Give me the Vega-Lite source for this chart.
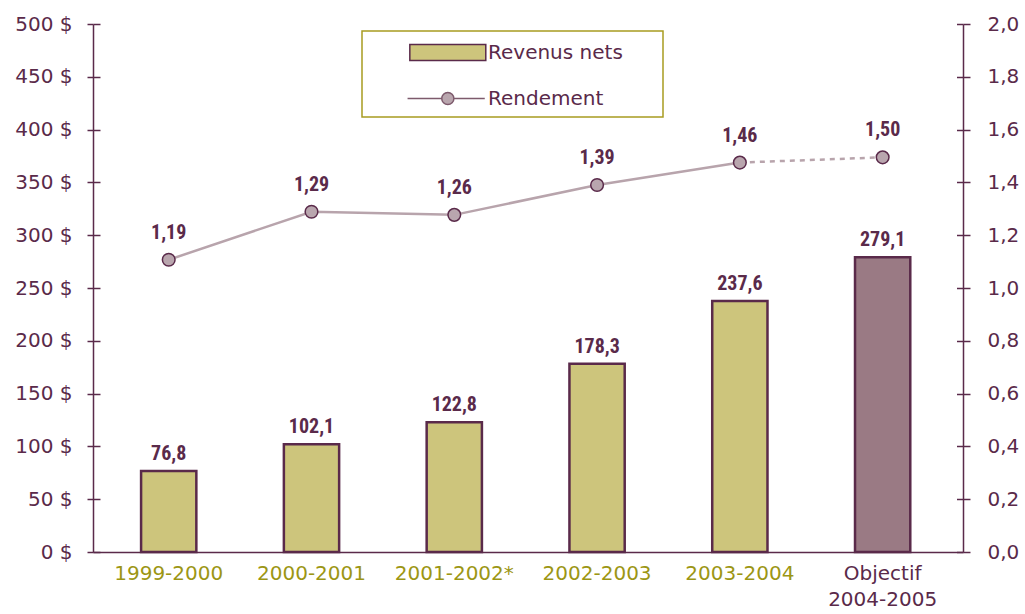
{
  "$schema": "https://vega.github.io/schema/vega-lite/v6.json",
  "width": 870,
  "height": 528,
  "autosize": {"type": "none"},
  "padding": {"left": 93, "top": 24, "right": 62, "bottom": 62},
  "background": "white",
  "config": {
    "view": {"stroke": null},
    "locale": {"number": {"decimal": ",", "thousands": " ", "grouping": [3], "currency": ["", " $"]}}
  },
  "data": {
    "values": [
      {"annee": "1999-2000", "revenus": 76.8, "rendement": 1.107, "rendement_texte": "1,19"},
      {"annee": "2000-2001", "revenus": 102.1, "rendement": 1.289, "rendement_texte": "1,29"},
      {"annee": "2001-2002*", "revenus": 122.8, "rendement": 1.277, "rendement_texte": "1,26"},
      {"annee": "2002-2003", "revenus": 178.3, "rendement": 1.39, "rendement_texte": "1,39"},
      {"annee": "2003-2004", "revenus": 237.6, "rendement": 1.475, "rendement_texte": "1,46"},
      {"annee": "Objectif 2004-2005", "revenus": 279.1, "rendement": 1.495, "rendement_texte": "1,50"}
    ]
  },
  "encoding": {
    "x": {
      "field": "annee",
      "type": "nominal",
      "sort": null,
      "scale": {"paddingInner": 0.613, "paddingOuter": 0.353, "align": 0.477},
      "axis": {
        "title": null,
        "labelAngle": 0,
        "ticks": false,
        "tickSize": 0,
        "domainColor": "#5a2a4a",
        "domainWidth": 1.5,
        "labelFont": "DejaVu Sans",
        "labelFontSize": 20,
        "labelLimit": 300,
        "labelPadding": 11,
        "labelLineHeight": 26,
        "labelColor": {"condition": {"test": "datum.value === 'Objectif 2004-2005'", "value": "#5a2a4a"}, "value": "#9c9614"},
        "labelExpr": "datum.value === 'Objectif 2004-2005' ? ['Objectif', '2004-2005'] : datum.value"
      }
    }
  },
  "layer": [
    {
      "encoding": {
        "y": {
          "field": "revenus",
          "type": "quantitative",
          "scale": {"domain": [0, 500], "nice": false},
          "axis": {
            "orient": "left",
            "title": null,
            "grid": true,
            "gridColor": "#5a2a4a",
            "gridWidth": 1.5,
            "gridOpacity": 1,
            "gridDash": [7, 3000],
            "values": [0, 50, 100, 150, 200, 250, 300, 350, 400, 450, 500],
            "labelExpr": "datum.value + ' $'",
            "domainColor": "#5a2a4a",
            "domainWidth": 1.5,
            "tickColor": "#5a2a4a",
            "tickWidth": 1.5,
            "tickSize": 6,
            "labelFont": "DejaVu Sans",
            "labelFontSize": 20,
            "labelColor": "#5a2a4a",
            "labelPadding": 15
          }
        }
      },
      "layer": [
        {
          "mark": {"type": "bar", "stroke": "#5a2a4a", "strokeWidth": 2.5},
          "encoding": {
            "fill": {
              "condition": {"test": "datum.annee === 'Objectif 2004-2005'", "value": "#9a7a84"},
              "datum": "Revenus nets",
              "type": "nominal",
              "scale": {"domain": ["Revenus nets", "Rendement"], "range": ["#cdc57c", "#b9a6ae"]},
              "legend": {
                "orient": "none",
                "legendX": 269,
                "legendY": 7,
                "direction": "vertical",
                "title": "\u00a0",
                "titleOrient": "right",
                "titlePadding": 32,
                "titleFontSize": 20,
                "titleColor": "white",
                "strokeColor": "#a89c20",
                "padding": 8,
                "rowPadding": 21,
                "labelFont": "DejaVu Sans",
                "labelFontSize": 20,
                "labelColor": "#5a2a4a",
                "symbolSize": 641,
                "labelOffset": 91,
                "encoding": {
                  "legend": {"strokeWidth": {"value": 1.5}},
                  "symbols": {
                    "shape": {"condition": {"test": "datum.value === 'Revenus nets'", "value": "M2.08,-0.63H8.08V0.63H2.08Z"}, "value": "M1.9,0H4.6M5.56,0H8.0M5.56,0A0.48,0.48 0 1,1 4.6,0A0.48,0.48 0 1,1 5.56,0Z"},
                    "fill": {"condition": {"test": "datum.value === 'Revenus nets'", "value": "#b8ae4c"}, "value": "#b9a6ae"},
                    "stroke": {"condition": {"test": "datum.value === 'Revenus nets'", "value": "#5a2a4a"}, "value": "#7d5a6c"},
                    "strokeWidth": {"value": 1.5},
                    "opacity": {"value": 1}
                  }
                }
              }
            }
          }
        },
        {
          "mark": {"type": "text", "baseline": "alphabetic", "dy": -11, "font": "Liberation Sans Narrow, Roboto Condensed, Liberation Sans", "fontWeight": "bold", "fontSize": 20, "color": "#5a2a4a"},
          "encoding": {"text": {"field": "revenus", "type": "quantitative", "format": ".1f"}}
        }
      ]
    },
    {
      "encoding": {
        "y": {
          "field": "rendement",
          "type": "quantitative",
          "scale": {"domain": [0, 2], "nice": false},
          "axis": {
            "orient": "right",
            "title": null,
            "grid": true,
            "gridColor": "#5a2a4a",
            "gridWidth": 1.5,
            "gridOpacity": 1,
            "gridDash": [6.5, 3000],
            "values": [0, 0.2, 0.4, 0.6, 0.8, 1, 1.2, 1.4, 1.6, 1.8, 2],
            "labelExpr": "replace(format(datum.value, '.1f'), '.', ',')",
            "domainColor": "#5a2a4a",
            "domainWidth": 1.5,
            "tickColor": "#5a2a4a",
            "tickWidth": 1.5,
            "tickSize": 7,
            "labelFont": "DejaVu Sans",
            "labelFontSize": 20,
            "labelColor": "#5a2a4a",
            "labelPadding": 17
          }
        }
      },
      "layer": [
        {
          "transform": [{"filter": "datum.annee !== 'Objectif 2004-2005'"}],
          "mark": {"type": "line", "color": "#b8a4ac", "strokeWidth": 2.5},
          "encoding": {}
        },
        {
          "transform": [{"filter": "datum.annee === '2003-2004' || datum.annee === 'Objectif 2004-2005'"}],
          "mark": {"type": "line", "color": "#b8a4ac", "strokeWidth": 2.5, "strokeDash": [5, 5]},
          "encoding": {}
        },
        {
          "mark": {"type": "point", "shape": "circle", "filled": true, "size": 160, "stroke": "#5a2a4a", "strokeWidth": 1.5, "opacity": 1},
          "encoding": {"fill": {"datum": "Rendement", "type": "nominal"}}
        },
        {
          "mark": {"type": "text", "baseline": "alphabetic", "dy": -21, "font": "Liberation Sans Narrow, Roboto Condensed, Liberation Sans", "fontWeight": "bold", "fontSize": 20, "color": "#5a2a4a"},
          "encoding": {"text": {"field": "rendement_texte", "type": "nominal"}}
        }
      ]
    }
  ],
  "resolve": {"scale": {"y": "independent"}}
}
